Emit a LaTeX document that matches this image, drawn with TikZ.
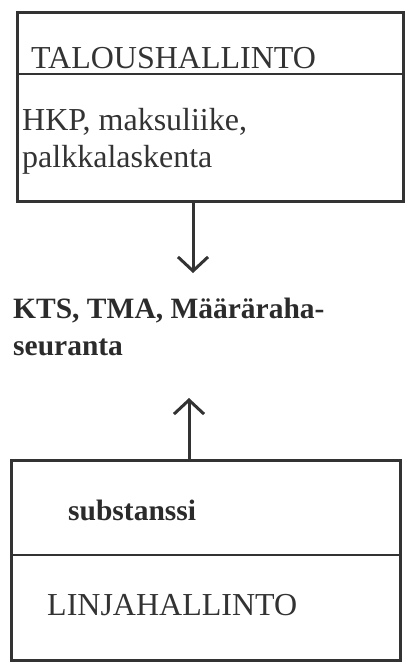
\documentclass[tikz,border=0pt]{standalone}
\usepackage{fontspec}
\setmainfont{Liberation Serif}
\usetikzlibrary{arrows.meta}
\definecolor{ink}{HTML}{333333}
\begin{document}
\begin{tikzpicture}[x=1pt,y=-1pt,
  frame/.style={draw=ink, line width=2.6pt, inner sep=0pt, anchor=north west},
  rule/.style={draw=ink, line width=2.6pt},
  lbl/.style={inner sep=0pt, anchor=base west, text=ink, font=\fontsize{32}{38}\selectfont},
  blbl/.style={inner sep=0pt, anchor=base west, text=ink!85!black, font=\fontsize{29.5}{37}\selectfont\bfseries},
  flow/.style={draw=ink, line width=3pt, -{Straight Barb[length=14pt,width=30pt,line width=3pt]}}
]
\useasboundingbox (0,0) rectangle (406,662);

% upper unit: financial administration
\node[frame, minimum width=386pt, minimum height=189pt] (talous) at (16,11) {};
\coordinate (div1) at (0,74);
\draw[rule] (talous.west |- div1) -- (talous.east |- div1);
\node[lbl] (taloush) at (31,68) {TALOUSHALLINTO};
\node[lbl] (hkp) at (22,130) {HKP, maksuliike,};
\node[lbl] (palkka) at (22,167) {palkkalaskenta};

% shared systems in the middle
\node[blbl] (kts) at (13,318) {KTS, TMA, Määräraha-};
\node[blbl] (seur) at (13,355) {seuranta};

% lower unit: line administration
\node[frame, minimum width=389pt, minimum height=200pt] (linja) at (10,459) {};
\coordinate (div2) at (0,555);
\draw[rule] (linja.west |- div2) -- (linja.east |- div2);
\node[blbl] (subst) at (68,520) {substanssi};
\node[lbl] (linjah) at (47,615) {LINJAHALLINTO};

% flows towards the shared systems
\coordinate (tip1) at (193,273);
\draw[flow] (talous.south -| tip1) -- (tip1);
\coordinate (tip2) at (189,398);
\draw[flow] (linja.north -| tip2) -- (tip2);
\end{tikzpicture}
\end{document}
